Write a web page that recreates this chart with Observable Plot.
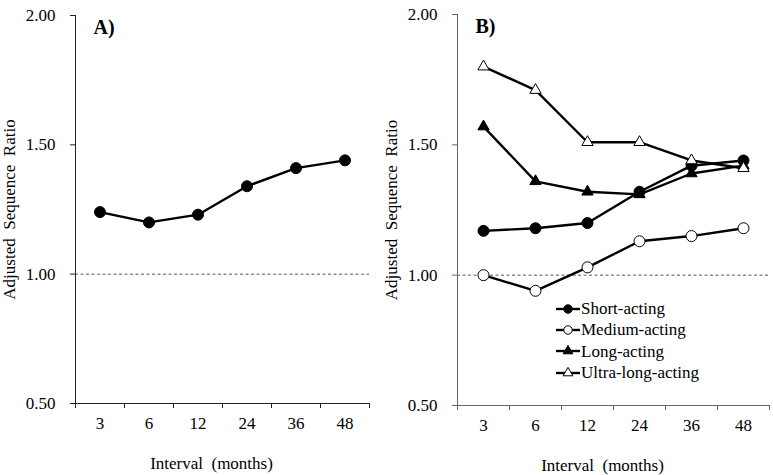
<!DOCTYPE html>
<html><head><meta charset="utf-8">
<script src="https://cdn.jsdelivr.net/npm/d3@7"></script>
<script src="https://cdn.jsdelivr.net/npm/@observablehq/plot@0.6"></script>
<style>
body{margin:0;background:#fff;}
#wrap{position:relative;width:773px;height:475px;font-family:"Liberation Serif","Times New Roman",serif;overflow:hidden;}
#a,#b{position:absolute;top:0;}
#a{left:0}
#b{left:383px}
#legend{position:absolute;left:556px;top:298px;font-size:17px;line-height:21.3px;color:#000;}
#legend .row{display:flex;align-items:center;height:21.3px;white-space:nowrap;}
#legend svg{display:block;margin-right:1px;}
</style></head><body>
<div id="wrap"><div id="a"></div><div id="b"></div><div id="legend"></div></div>
<script>
const intervals = ["3","6","12","24","36","48"];
const overall = [1.24, 1.20, 1.23, 1.34, 1.41, 1.44];
const seriesNames = ["Short-acting", "Medium-acting", "Long-acting", "Ultra-long-acting"];
const shortActing = [1.17, 1.18, 1.20, 1.32, 1.42, 1.44];
const mediumActing = [1.00, 0.94, 1.03, 1.13, 1.15, 1.18];
const longActing = [1.57, 1.36, 1.32, 1.31, 1.39, 1.42];
const ultraLongActing = [1.80, 1.71, 1.51, 1.51, 1.44, 1.41];
const yTicks = [0.5, 1.0, 1.5, 2.0];
const yLabel = "Adjusted\u00a0 Sequence\u00a0 Ratio";
const xLabel = "Interval\u00a0 (months)";

const styles = [
  {symbol: "circle", fill: "black", r: 5.5},
  {symbol: "circle", fill: "white", r: 5.5},
  {symbol: "triangle", fill: "black", r: 4.2},
  {symbol: "triangle", fill: "white", r: 4.2}
];

function toRows(values, name) {
  return values.map((v, i) => ({i: i + 0.5, v, s: name}));
}

function panel({width, margins, label, series, axisColor, yLabelOffset}) {
  const [mt, mr, mb, ml] = margins;
  const font = '"Liberation Serif","Times New Roman",serif';
  const marks = [
    Plot.ruleY([1], {stroke: "#555", strokeWidth: 1, strokeDasharray: "3,2.5"}),
    Plot.axisY({ticks: yTicks, tickFormat: d => d.toFixed(2), tickSize: 5, tickPadding: 15, fontSize: 17,
      stroke: axisColor, color: "#000", label: yLabel, labelAnchor: "center", labelOffset: yLabelOffset, labelArrow: "none"}),
    Plot.axisX({ticks: d3.range(7), tickFormat: () => "", tickSize: 5, stroke: axisColor, label: null}),
    Plot.axisX({ticks: intervals.map((_, i) => i + 0.5), tickFormat: t => intervals[Math.floor(t)], tickSize: 0,
      tickPadding: 13, fontSize: 17, label: null}),
    Plot.text([xLabel], {frameAnchor: "bottom", lineAnchor: "middle", dy: 60, dx: -11, fontSize: 17}),
    Plot.ruleX([0], {stroke: axisColor, strokeWidth: 1}),
    Plot.ruleY([0.5], {stroke: axisColor, strokeWidth: 1})
  ];
  series.forEach(({values, name}) => {
    marks.push(Plot.line(toRows(values, name), {x: "i", y: "v", stroke: "black", strokeWidth: 2.4}));
  });
  series.forEach(({values, name, style}) => {
    marks.push(Plot.dot(toRows(values, name), {x: "i", y: "v", symbol: style.symbol, fill: style.fill, stroke: "black", strokeWidth: 1, r: style.r}));
  });
  marks.push(Plot.text([label], {frameAnchor: "top-left", dx: 18, dy: 4, fontWeight: "bold", fontSize: 20, lineAnchor: "top", textAnchor: "start"}));
  return Plot.plot({
    width, height: 475,
    marginTop: mt, marginRight: mr, marginBottom: mb, marginLeft: ml,
    style: {fontFamily: font, fontSize: "17px", background: "white", color: "black"},
    x: {type: "linear", domain: [0, 6]},
    y: {domain: [0.5, 2]},
    marks
  });
}

document.getElementById("a").appendChild(panel({
  width: 383, margins: [15, 14, 72, 75], label: "A)", axisColor: "#222", yLabelOffset: 73,
  series: [{values: overall, name: "Overall", style: styles[0]}]
}));

const bSeries = [shortActing, mediumActing, longActing, ultraLongActing].map((values, k) => ({values, name: seriesNames[k], style: styles[k]}));
document.getElementById("b").appendChild(panel({
  width: 390, margins: [14, 4, 70, 74], label: "B)", axisColor: "#666", yLabelOffset: 73,
  series: bSeries
}));

// legend
const legend = d3.select("#legend");
seriesNames.forEach((name, k) => {
  const st = styles[k];
  const row = legend.append("div").attr("class", "row");
  const svg = row.append("svg").attr("width", 24).attr("height", 14);
  svg.append("line").attr("x1", 0).attr("x2", 24).attr("y1", 7).attr("y2", 7).attr("stroke", "black").attr("stroke-width", 2.4);
  const sym = st.symbol === "circle" ? d3.symbolCircle : d3.symbolTriangle;
  const size = st.symbol === "circle" ? Math.PI * 4.2 * 4.2 : Math.PI * 3.6 * 3.6;
  svg.append("path").attr("d", d3.symbol(sym, size)()).attr("transform", "translate(12,7)")
    .attr("fill", st.fill).attr("stroke", "black").attr("stroke-width", 1);
  row.append("span").text(name);
});
</script>
</body></html>
